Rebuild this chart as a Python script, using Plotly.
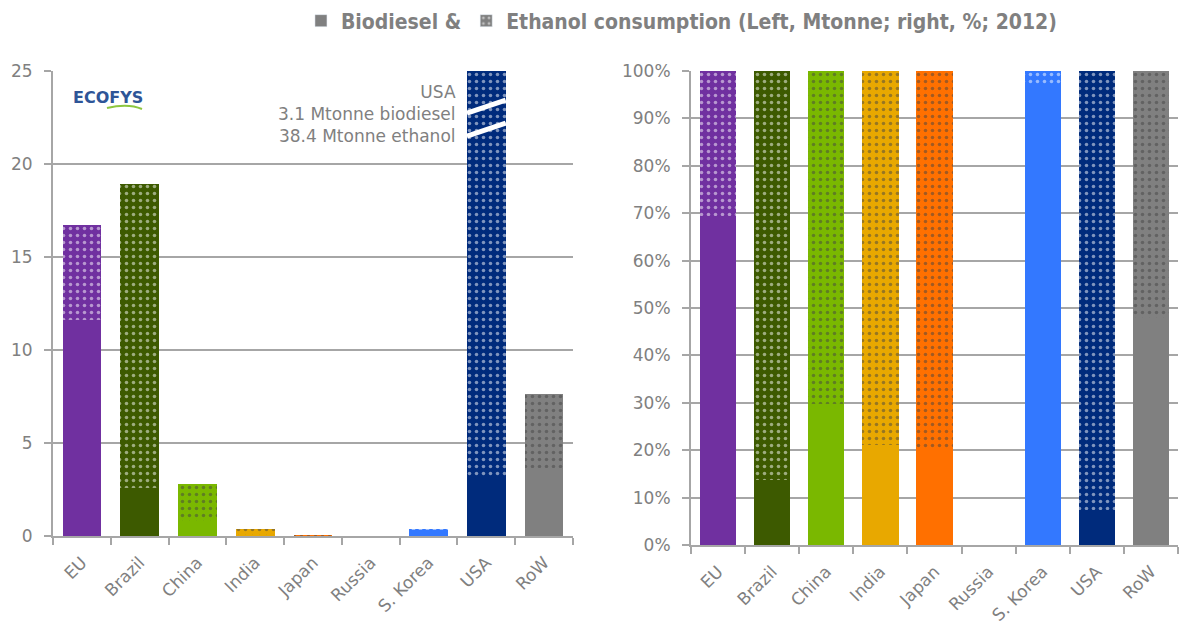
import plotly.graph_objects as go

# Consumption in 2012, Mtonne
regions = ["EU", "Brazil", "China", "India", "Japan", "Russia", "S. Korea", "USA", "RoW"]
biodiesel = [11.6, 2.6, 0.83, 0.074, 0.002, 0.0, 0.36, 3.1, 3.66]
ethanol = [5.1, 16.3, 1.97, 0.276, 0.008, 0.0, 0.01, 38.4, 3.97]
colors = ["#7030A0", "#3D5A00", "#7AB800", "#E8A800", "#FF7000",
          "#C00000", "#3378FF", "#002B7C", "#808080"]

# Shares of each fuel in the regional total, %
totals = [b + e for b, e in zip(biodiesel, ethanol)]
bio_share = [100 * b / t if t > 0 else None for b, t in zip(biodiesel, totals)]
eth_share = [100 * e / t if t > 0 else None for e, t in zip(ethanol, totals)]

left_ticks = [0, 5, 10, 15, 20, 25]
right_ticks = list(range(0, 101, 10))
right_labels = [f"{v}%" for v in right_ticks]

GRAY = "#808080"
GRID = "#A6A6A6"
TICK_FONT = dict(family="DejaVu Sans, Verdana, sans-serif", size=17, color=GRAY)
dots = dict(shape=".", fgcolor="white", size=7, solidity=0.2, fillmode="overlay")

fig = go.Figure()

for xa, ya, b_vals, e_vals in [("x", "y", biodiesel, ethanol),
                               ("x2", "y2", bio_share, eth_share)]:
    fig.add_trace(go.Bar(x=regions, y=b_vals, xaxis=xa, yaxis=ya,
                         marker=dict(color=colors, line=dict(width=0)),
                         showlegend=False, hoverinfo="x+y"))
    fig.add_trace(go.Bar(x=regions, y=e_vals, xaxis=xa, yaxis=ya,
                         marker=dict(color=colors, line=dict(width=0),
                                     pattern=dots),
                         showlegend=False, hoverinfo="x+y"))

# Legend entries
fig.add_trace(go.Bar(x=[None], y=[None], name="Biodiesel &",
                     marker=dict(color=GRAY), xaxis="x", yaxis="y"))
fig.add_trace(go.Bar(x=[None], y=[None],
                     name="Ethanol consumption (Left, Mtonne; right, %; 2012)",
                     marker=dict(color=GRAY, pattern=dots), xaxis="x", yaxis="y"))

xcommon = dict(type="category", categoryorder="array", categoryarray=regions,
               showline=True, linecolor=GRID, linewidth=2,
               ticks="outside", tickson="boundaries", ticklen=7,
               tickcolor=GRID, tickwidth=2, tickangle=-45,
               tickfont=dict(family="DejaVu Sans, Verdana, sans-serif",
                             size=17, color=GRAY),
               ticklabelstandoff=8,
               showgrid=False, fixedrange=True, automargin=False)
ycommon = dict(showline=True, linecolor=GRID, linewidth=2,
               ticks="outside", ticklen=7, tickcolor=GRID, tickwidth=2,
               showgrid=True, gridcolor=GRID, gridwidth=2,
               zeroline=False, tickfont=TICK_FONT, fixedrange=True,
               automargin=False, ticklabelstandoff=8)

fig.update_layout(
    width=1179, height=628,
    margin=dict(l=0, r=0, t=0, b=0, autoexpand=False),
    paper_bgcolor="white", plot_bgcolor="white",
    barmode="stack", bargap=0.33,
    xaxis=dict(domain=[53 / 1179, 573 / 1179], anchor="y", **xcommon),
    yaxis=dict(domain=[1 - 536 / 628, 1 - 71 / 628], anchor="x",
               range=[0, 25], tickvals=left_ticks, **ycommon),
    xaxis2=dict(domain=[691 / 1179, 1178 / 1179], anchor="y2", **xcommon),
    yaxis2=dict(domain=[1 - 545 / 628, 1 - 71 / 628], anchor="x2",
                range=[0, 100], tickvals=right_ticks, ticktext=right_labels,
                **ycommon),
    legend=dict(orientation="h", x=0.578, xanchor="center",
                y=1 - 21 / 628, yanchor="middle", traceorder="normal",
                font=dict(family="DejaVu Sans Condensed, Liberation Sans Narrow, sans-serif",
                          size=21, color=GRAY, weight="bold"),
                itemwidth=30, bgcolor="rgba(0,0,0,0)"),
    showlegend=True,
)

# Axis break on the USA bar (value runs past the left scale)
usa = regions.index("USA")
for y_left, y_right in [(22.74, 23.44), (21.5, 22.2)]:
    fig.add_shape(type="line", xref="x", yref="y",
                  x0=usa - 0.335, x1=usa + 0.335, y0=y_left, y1=y_right,
                  line=dict(color="white", width=5), layer="above")

fig.add_annotation(
    xref="paper", yref="paper", x=458 / 1179, y=1 - 114 / 628,
    xanchor="right", yanchor="middle", align="right", showarrow=False,
    text=f"USA<br>{biodiesel[usa]} Mtonne biodiesel<br>{ethanol[usa]} Mtonne ethanol",
    font=dict(family="DejaVu Sans, Verdana, sans-serif", size=17, color=GRAY),
)

# ECOFYS logo
fig.add_annotation(
    xref="paper", yref="paper", x=108 / 1179, y=1 - 97 / 628,
    xanchor="center", yanchor="middle", showarrow=False, text="ECOFYS",
    font=dict(family="DejaVu Sans, sans-serif", size=16, color="#2E5597",
              weight="bold"),
)
fig.add_shape(
    type="path", xref="paper", yref="paper",
    path=(f"M {107 / 1179},{1 - 108 / 628} "
          f"Q {128 / 1179},{1 - 103 / 628} {142 / 1179},{1 - 109 / 628}"),
    line=dict(color="#8DC63F", width=2),
)

fig.write_html("out.html")
